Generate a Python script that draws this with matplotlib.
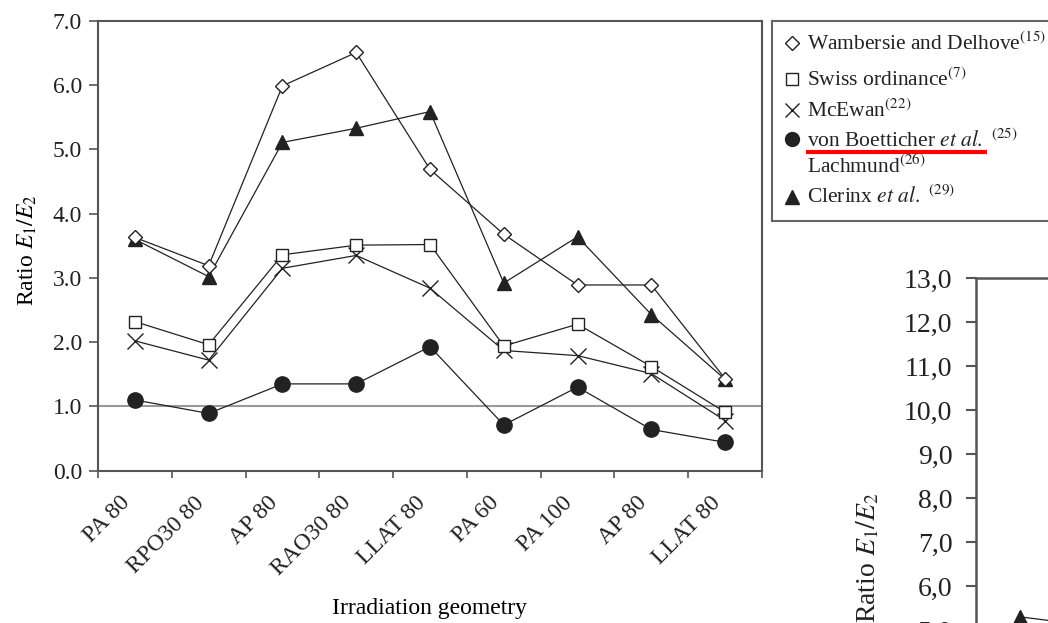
import matplotlib
matplotlib.use("Agg")
import matplotlib.pyplot as plt
from matplotlib.transforms import ScaledTranslation
from matplotlib.ticker import FuncFormatter, FixedLocator

plt.rcParams["font.family"] = ["Liberation Serif", "DejaVu Serif"]
plt.rcParams["mathtext.fontset"] = "stix"
plt.rcParams["text.color"] = "#222222"
plt.rcParams["xtick.color"] = "#555555"
plt.rcParams["ytick.color"] = "#555555"
plt.rcParams["xtick.labelcolor"] = "#222222"
plt.rcParams["ytick.labelcolor"] = "#222222"

# ---- data ----
geometries = ["PA 80", "RPO30 80", "AP 80", "RAO30 80", "LLAT 80",
              "PA 60", "PA 100", "AP 80", "LLAT 80"]
wambersie = [3.63, 3.19, 5.99, 6.51, 4.69, 3.68, 2.89, 2.89, 1.43]
swiss = [2.32, 1.96, 3.36, 3.51, 3.52, 1.94, 2.28, 1.62, 0.91]
mcewan = [2.02, 1.72, 3.15, 3.35, 2.84, 1.87, 1.79, 1.51, 0.78]
boetticher = [1.10, 0.89, 1.35, 1.35, 1.93, 0.71, 1.30, 0.64, 0.44]
clerinx = [3.60, 3.02, 5.11, 5.33, 5.59, 2.92, 3.64, 2.43, 1.42]
# second (cut-off) panel on the right
clerinx_b = [5.30, 5.05]

W, H = 1048, 623
LINE = "#222222"
SPINE = "#555555"

fig = plt.figure(figsize=(W / 100, H / 100), dpi=100, facecolor="white")

# ====== main panel ======
ax = fig.add_axes([98 / W, 1 - 470.6 / H, 664 / W, 449.6 / H])
x = [i + 0.5 for i in range(len(geometries))]

ax.axhline(1.0, color="#999999", lw=1.5, zorder=1)
ax.plot(x, boetticher, "-o", color=LINE, lw=0.9, ms=11, mfc=LINE, mec=LINE, zorder=3)
ax.plot(x, mcewan, "-x", color=LINE, lw=0.9, ms=11, mew=1.0, zorder=3)
ax.plot(x, swiss, "-s", color=LINE, lw=0.9, ms=9, mfc="white", mec=LINE, mew=1.0, zorder=4)
ax.plot(x, clerinx, "-^", color=LINE, lw=0.9, ms=9.5, mfc=LINE, mec=LINE, zorder=4)
ax.plot(x, wambersie, "-D", color=LINE, lw=0.9, ms=7, mfc="white", mec=LINE, mew=1.0, zorder=5)

ax.set_xlim(0, len(geometries))
ax.set_ylim(0, 7)
ax.set_yticks(range(0, 8))
ax.yaxis.set_major_formatter(FuncFormatter(lambda v, _: f"{v:.1f}"))
ax.tick_params(axis="y", direction="out", length=6.5, width=1.2, pad=5, labelsize=17)

ax.set_xticks(range(0, len(geometries) + 1))
ax.set_xticklabels([])
ax.tick_params(axis="x", which="major", direction="out", length=5, width=1.2)
ax.xaxis.set_minor_locator(FixedLocator(x))
ax.set_xticks(x, geometries, minor=True)
ax.tick_params(axis="x", which="minor", length=0, pad=21, labelsize=17)
offset = ScaledTranslation(-8 / 100, 0, fig.dpi_scale_trans)
for lab in ax.get_xticklabels(minor=True):
    lab.set_rotation(45)
    lab.set_ha("right")
    lab.set_va("center")
    lab.set_rotation_mode("anchor")
    lab.set_transform(lab.get_transform() + offset)

for s in ax.spines.values():
    s.set_color(SPINE)
    s.set_linewidth(1.5)

ax.set_ylabel("Ratio $E_1/E_2$", fontsize=17)
ax.yaxis.set_label_coords(-0.107, 0.49)
ax.yaxis.label.set_va("center")
ax.set_xlabel("Irradiation geometry", fontsize=17)
ax.xaxis.set_label_coords(0.5, -0.306)
ax.xaxis.label.set_va("center")

# ====== legend box (drawn by hand, pixel coords) ======
leg = fig.add_axes([772 / W, 1 - 221 / H, 0.3, 200 / H])
leg.set_xlim(0, 0.3 * W)
leg.set_ylim(200, 0)
leg.set_xticks([]); leg.set_yticks([])
for s in leg.spines.values():
    s.set_color("#666666")
    s.set_linewidth(1.5)

mx, tx, fs = 20, 35, 15.5
leg.plot(mx, 22, "D", ms=7, mfc="white", mec=LINE, mew=1.0)
leg.plot(mx, 58, "s", ms=8, mfc="white", mec=LINE, mew=1.0)
leg.plot(mx, 89, "x", ms=10, mec=LINE, mew=1.0)
leg.plot(mx, 118, "o", ms=10, mfc=LINE, mec=LINE)
leg.plot(mx, 176, "^", ms=10, mfc=LINE, mec=LINE)
leg.text(tx, 29, r"Wambersie and Delhove$^{(15)}$", fontsize=fs, va="baseline")
leg.text(tx, 65, r"Swiss ordinance$^{(7)}$", fontsize=fs, va="baseline")
leg.text(tx, 96, r"McEwan$^{(22)}$", fontsize=fs, va="baseline")
leg.text(tx, 126, r"von Boetticher $\mathit{et\ al.}$ $^{(25)}$", fontsize=fs, va="baseline")
leg.text(tx, 152, r"Lachmund$^{(26)}$", fontsize=fs, va="baseline")
leg.text(tx, 182, r"Clerinx $\mathit{et\ al.}$ $^{(29)}$", fontsize=fs, va="baseline")
leg.plot([34, 215], [131, 131], color="red", lw=3, solid_capstyle="butt")

# ====== second panel, cut off at the figure edge ======
ax2 = fig.add_axes([976 / W, 1 - 850 / H, 0.5, 572 / H])
ax2.plot([0.5, 1.5], clerinx_b, "-^", color=LINE, lw=0.9, ms=10, mfc=LINE, mec=LINE)
ax2.set_xlim(0, 6)
ax2.set_ylim(0, 13)
ax2.set_yticks(range(0, 14))
ax2.yaxis.set_major_formatter(FuncFormatter(lambda v, _: f"{v:.1f}".replace(".", ",")))
ax2.tick_params(axis="y", direction="out", length=7, width=1.5, pad=10, labelsize=20)
ax2.set_xticks([])
for s in ax2.spines.values():
    s.set_color(SPINE)
    s.set_linewidth(1.8)
fig.text(868 / W, 1 - 558 / H, "Ratio $E_1/E_2$", rotation=90,
         ha="center", va="center", fontsize=20)

fig.savefig("out.png", dpi=100, facecolor="white")
